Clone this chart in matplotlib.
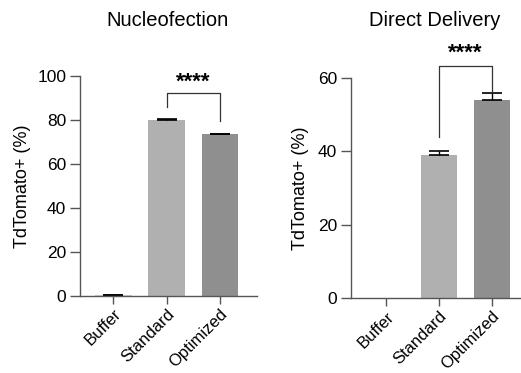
import matplotlib.pyplot as plt

plt.rcParams['font.family'] = ['Liberation Sans', 'DejaVu Sans']

groups = ['Buffer', 'Standard', 'Optimized']
nucleo_vals = [0.5, 80.0, 73.5]
nucleo_err = [0.2, 0.3, 0.3]
direct_vals = [0.0, 39.0, 54.0]
direct_err = [0.0, 1.2, 1.8]
bar_colors = ['#d0d0d0', '#b0b0b0', '#8f8f8f']
axis_color = '#555555'

fig = plt.figure(figsize=(5.21, 3.73), dpi=100)
ax1 = fig.add_axes([0.154, 0.206, 0.339, 0.590])
ax2 = fig.add_axes([0.674, 0.200, 0.326, 0.591])


def style(ax):
    for s in ['top', 'right']:
        ax.spines[s].set_visible(False)
    for s in ['left', 'bottom']:
        ax.spines[s].set_color(axis_color)
        ax.spines[s].set_linewidth(1.0)
    ax.tick_params(axis='y', length=7, width=1, color=axis_color, labelsize=12.5, pad=3)
    ax.tick_params(axis='x', length=6, width=1, color=axis_color, labelsize=12, pad=1.5)
    ax.set_xticks(range(len(groups)))
    ax.set_xticklabels(groups, rotation=45, ha='right', rotation_mode='anchor')
    ax.set_ylabel('TdTomato+ (%)', fontsize=13)


def bracket(ax, x1, x2, y1, y2, top, star_y):
    ax.plot([x1, x1, x2, x2], [y1, top, top, y2], color='#333333', lw=0.9, clip_on=False)
    ax.text((x1 + x2) / 2, star_y, '****', ha='center', va='center',
            fontsize=16, fontweight='bold', clip_on=False)


# Nucleofection
x = range(len(groups))
ax1.bar(x, nucleo_vals, width=0.69, color=bar_colors)
ax1.errorbar(x, nucleo_vals, yerr=[[0, 0, 0], nucleo_err], fmt='none',
             ecolor='black', elinewidth=1, capsize=7, capthick=1.2)
ax1.set_xlim(-0.62, 2.69)
ax1.set_ylim(0, 100)
ax1.set_yticks([0, 20, 40, 60, 80, 100])
style(ax1)
ax1.yaxis.set_label_coords(-0.28, 0.5)
bracket(ax1, 1, 2, 86, 79.5, 92.3, 97.0)
fig.text(0.321, 0.945, 'Nucleofection', ha='center', va='center', fontsize=14.5)

# Direct Delivery
ax2.bar(x, direct_vals, width=0.69, color=bar_colors)
ax2.errorbar([1, 2], direct_vals[1:], yerr=[[0, 0], direct_err[1:]], fmt='none',
             ecolor='black', elinewidth=1, capsize=7, capthick=1.2)
ax2.set_xlim(-0.66, 2.55)
ax2.set_ylim(0, 60)
ax2.set_yticks([0, 20, 40, 60])
style(ax2)
ax2.yaxis.set_label_coords(-0.25, 0.5)
bracket(ax2, 1, 2, 43.8, 56.2, 63.2, 66.6)
fig.text(0.835, 0.945, 'Direct Delivery', ha='center', va='center', fontsize=14.5)

plt.savefig('out.png', dpi=100)
